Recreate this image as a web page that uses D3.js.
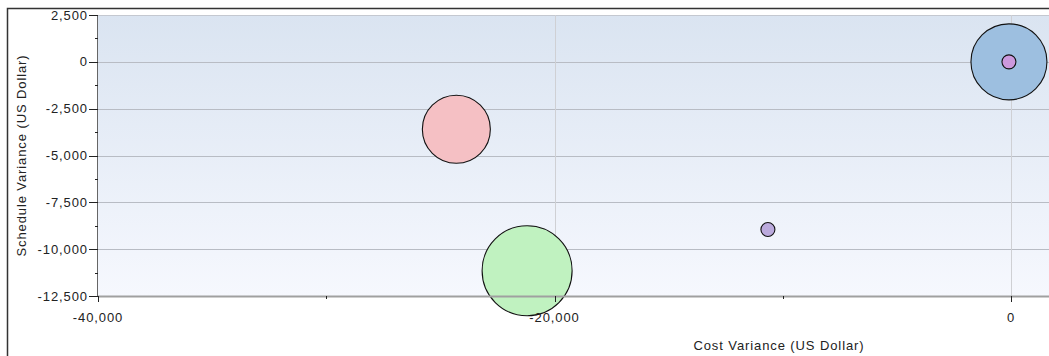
<!DOCTYPE html>
<html>
<head>
<meta charset="utf-8">
<script src="https://cdn.jsdelivr.net/npm/d3@7"></script>
<style>
  html, body { margin: 0; padding: 0; background: #fff; }
  svg { display: block; font-family: "Liberation Sans", Arial, sans-serif; }
</style>
</head>
<body>
<div id="chart"></div>
<script>
// bubble data: cost variance (x), schedule variance (y), bubble size, fill
const projects = ['A', 'B', 'C', 'D', 'E'];
const costVariance = [-24300, -21200, -90, -90, -10650];
const scheduleVariance = [-3600, -11150, 0, 0, -8950];
const bubbleSize = [11560, 20250, 14440, 490, 490];
const bubbleColor = ['#f5c0c4', '#c0f2c0', '#9dbfe0', '#cc99dd', '#bbaadd'];

const xTicks = [-40000, -20000, 0];
const xMinorTicks = [-30000, -10000];
const yTicks = [2500, 0, -2500, -5000, -7500, -10000, -12500];
const yMinorTicks = [1250, -1250, -3750, -6250, -8750, -11250];

const W = 1049, H = 356;
const PLOT = { left: 98, top: 15, right: 1049, bottom: 296 };
const FONT = 13, SPACING = '0.9px';

const svg = d3.select('#chart').append('svg')
  .attr('width', W).attr('height', H);

// outer frame (only top/left visible)
svg.append('rect')
  .attr('x', 7.5).attr('y', 8.5)
  .attr('width', W + 20).attr('height', H + 20)
  .attr('fill', 'none').attr('stroke', '#333').attr('stroke-width', 1.5);

const x = d3.scaleLinear()
  .domain([-40000, -40000 + (PLOT.right - PLOT.left) / 456.5 * 20000])
  .range([PLOT.left, PLOT.right]);
const y = d3.scaleLinear().domain([-12500, 2500]).range([PLOT.bottom, PLOT.top]);
const r = d3.scaleSqrt().domain([0, 10]).range([0, 1]);

// background gradient
const grad = svg.append('defs').append('linearGradient')
  .attr('id', 'bg').attr('x1', 0).attr('y1', 0).attr('x2', 0).attr('y2', 1);
grad.append('stop').attr('offset', '0%').attr('stop-color', '#dae4f1');
grad.append('stop').attr('offset', '100%').attr('stop-color', '#f6f8fe');

svg.append('rect')
  .attr('x', PLOT.left).attr('y', PLOT.top)
  .attr('width', PLOT.right - PLOT.left).attr('height', PLOT.bottom - PLOT.top)
  .attr('fill', 'url(#bg)');

// grid
svg.append('g').selectAll('line')
  .data(yTicks.slice(1, -1))
  .join('line')
  .attr('x1', PLOT.left).attr('x2', PLOT.right)
  .attr('y1', d => Math.round(y(d)) + 0.5).attr('y2', d => Math.round(y(d)) + 0.5)
  .attr('stroke', '#b8bcc4').attr('stroke-width', 1);

svg.append('line')
  .attr('x1', PLOT.left).attr('x2', PLOT.right)
  .attr('y1', PLOT.top + 0.5).attr('y2', PLOT.top + 0.5)
  .attr('stroke', '#c4c8d0');

svg.append('g').selectAll('line')
  .data(xTicks.slice(1))
  .join('line')
  .attr('x1', d => Math.round(x(d)) + 0.5).attr('x2', d => Math.round(x(d)) + 0.5)
  .attr('y1', PLOT.top).attr('y2', PLOT.bottom)
  .attr('stroke', '#cfd0d4').attr('stroke-width', 1);

// bubbles
const idx = d3.range(projects.length);
svg.append('g').selectAll('circle')
  .data(idx)
  .join('circle')
  .attr('cx', i => x(costVariance[i]))
  .attr('cy', i => y(scheduleVariance[i]))
  .attr('r', i => r(bubbleSize[i]))
  .attr('fill', i => bubbleColor[i])
  .attr('stroke', '#111')
  .attr('stroke-width', 1.1);

// x axis line
svg.append('line')
  .attr('x1', PLOT.left).attr('x2', PLOT.right)
  .attr('y1', PLOT.bottom + 0.5).attr('y2', PLOT.bottom + 0.5)
  .attr('stroke', '#a0a0a0').attr('stroke-width', 2);

// y axis line
svg.append('line')
  .attr('x1', PLOT.left - 0.5).attr('x2', PLOT.left - 0.5)
  .attr('y1', PLOT.top).attr('y2', PLOT.bottom)
  .attr('stroke', '#666');

const fmt = d => d3.format(',')(d).replace('\u2212', '-');

// y ticks
const yAxis = svg.append('g');
yAxis.selectAll('line.major')
  .data(yTicks).join('line').attr('class', 'major')
  .attr('x1', PLOT.left - 9).attr('x2', PLOT.left)
  .attr('y1', d => Math.round(y(d)) + 0.5).attr('y2', d => Math.round(y(d)) + 0.5)
  .attr('stroke', '#222');
yAxis.selectAll('line.minor')
  .data(yMinorTicks).join('line').attr('class', 'minor')
  .attr('x1', PLOT.left - 3).attr('x2', PLOT.left)
  .attr('y1', d => Math.round(y(d)) + 0.5).attr('y2', d => Math.round(y(d)) + 0.5)
  .attr('stroke', '#222');
yAxis.selectAll('text')
  .data(yTicks).join('text')
  .attr('x', PLOT.left - 10).attr('y', d => y(d))
  .attr('dy', '0.35em').attr('text-anchor', 'end')
  .attr('font-size', FONT).attr('letter-spacing', SPACING).attr('fill', '#222')
  .text(d => fmt(d));

// x ticks
const xAxis = svg.append('g');
xAxis.selectAll('line.major')
  .data(xTicks).join('line').attr('class', 'major')
  .attr('x1', d => Math.round(x(d)) + 0.5).attr('x2', d => Math.round(x(d)) + 0.5)
  .attr('y1', PLOT.bottom).attr('y2', PLOT.bottom + 6)
  .attr('stroke', '#222');
xAxis.selectAll('line.minor')
  .data(xMinorTicks).join('line').attr('class', 'minor')
  .attr('x1', d => Math.round(x(d)) + 0.5).attr('x2', d => Math.round(x(d)) + 0.5)
  .attr('y1', PLOT.bottom).attr('y2', PLOT.bottom + 3)
  .attr('stroke', '#222');
xAxis.selectAll('text')
  .data(xTicks).join('text')
  .attr('x', d => x(d)).attr('y', PLOT.bottom + 26)
  .attr('text-anchor', 'middle')
  .attr('font-size', FONT).attr('letter-spacing', SPACING).attr('fill', '#222')
  .text(d => fmt(d));

// axis titles
svg.append('text')
  .attr('x', 779).attr('y', 350)
  .attr('text-anchor', 'middle')
  .attr('font-size', FONT).attr('letter-spacing', SPACING).attr('fill', '#222')
  .text('Cost Variance (US Dollar)');

svg.append('text')
  .attr('transform', `translate(26, ${(PLOT.top + PLOT.bottom) / 2}) rotate(-90)`)
  .attr('text-anchor', 'middle')
  .attr('font-size', FONT).attr('letter-spacing', SPACING).attr('fill', '#222')
  .text('Schedule Variance (US Dollar)');
</script>
</body>
</html>
